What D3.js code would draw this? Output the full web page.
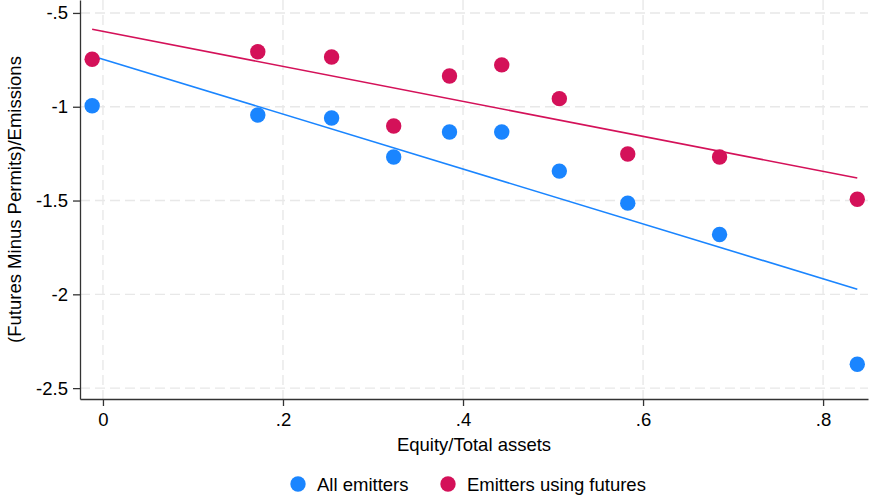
<!DOCTYPE html>
<html>
<head>
<meta charset="utf-8">
<script src="https://cdn.jsdelivr.net/npm/d3@7/dist/d3.min.js"></script>
<style>
  body { margin: 0; background: #fff; }
  svg { display: block; font-family: "Liberation Sans", Arial, sans-serif; }
</style>
</head>
<body>
<svg id="chart"></svg>
<script>
// binned points
const equity = [-0.012, 0.172, 0.254, 0.323, 0.385, 0.443, 0.507, 0.583, 0.685, 0.838];
const allEmitters = [-0.995, -1.044, -1.060, -1.268, -1.135, -1.135, -1.343, -1.514, -1.681, -2.373];
const futuresUsers = [-0.747, -0.707, -0.735, -1.103, -0.836, -0.777, -0.957, -1.252, -1.268, -1.493];

// fitted lines: [x, y] at both ends
const allFit = [[-0.012, -0.729], [0.838, -1.973]];
const futuresFit = [[-0.012, -0.587], [0.838, -1.380]];

const xTicks = [0, 0.2, 0.4, 0.6, 0.8];
const yTicks = [-0.5, -1, -1.5, -2, -2.5];

const seriesNames = ["All emitters", "Emitters using futures"];
const colors = ["#1a85ff", "#d41159"];

const W = 869, H = 495;
const margin = { top: 0, right: 1, bottom: 96, left: 80 };
const width = W - margin.left - margin.right,
      height = H - margin.top - margin.bottom;
const fontSize = "18.5px";

const svg = d3.select("#chart").attr("width", W).attr("height", H);
const g = svg.append("g").attr("transform", `translate(${margin.left},${margin.top})`);

const x = d3.scaleLinear().domain([-0.0255, 0.8499]).range([0, width]);
const y = d3.scaleLinear().domain([-2.558, -0.431]).range([height, 0]);

// Stata style labels: "-.5", ".2", plain hyphen
const fmt = d => String(d).replace("0.", ".");

// grid
g.selectAll(".hgrid").data(yTicks).enter().append("line")
  .attr("x1", 0).attr("x2", width)
  .attr("y1", d => y(d)).attr("y2", d => y(d))
  .attr("stroke", "#e8e8e8").attr("stroke-width", 1.4).attr("stroke-dasharray", "10,5");
g.selectAll(".vgrid").data(xTicks).enter().append("line")
  .attr("y1", 0).attr("y2", height)
  .attr("x1", d => x(d)).attr("x2", d => x(d))
  .attr("stroke", "#e8e8e8").attr("stroke-width", 1.4).attr("stroke-dasharray", "10,5");

// axes
const yAxis = g.append("g")
  .call(d3.axisLeft(y).tickValues(yTicks).tickFormat(fmt).tickSize(7).tickPadding(5).tickSizeOuter(0));
const xAxis = g.append("g").attr("transform", `translate(0,${height})`)
  .call(d3.axisBottom(x).tickValues(xTicks).tickFormat(fmt).tickSize(7).tickPadding(7).tickSizeOuter(0));
[xAxis, yAxis].forEach(a => {
  a.select(".domain").attr("stroke", "#333").attr("stroke-width", 1.3);
  a.selectAll(".tick line").attr("stroke", "#333").attr("stroke-width", 1.3);
  a.selectAll("text").attr("fill", "#000").style("font-size", fontSize)
    .style("font-family", "'Liberation Sans', Arial, sans-serif");
});

// fit lines
const line = d3.line().x(d => x(d[0])).y(d => y(d[1]));
[allFit, futuresFit].forEach((f, i) => {
  g.append("path").datum(f).attr("d", line)
    .attr("fill", "none").attr("stroke", colors[i]).attr("stroke-width", 1.6);
});

// points
[allEmitters, futuresUsers].forEach((vals, i) => {
  g.selectAll(".dot" + i).data(vals).enter().append("circle")
    .attr("cx", (d, j) => x(equity[j]))
    .attr("cy", d => y(d))
    .attr("r", 7.7)
    .attr("fill", colors[i]);
});

// axis titles
svg.append("text")
  .attr("x", margin.left + width / 2)
  .attr("y", 451)
  .attr("text-anchor", "middle")
  .style("font-size", fontSize)
  .text("Equity/Total assets");

svg.append("text")
  .attr("transform", `translate(21,${margin.top + height / 2}) rotate(-90)`)
  .attr("text-anchor", "middle")
  .style("font-size", fontSize)
  .text("(Futures Minus Permits)/Emissions");

// legend
const legendX = [298, 448];
seriesNames.forEach((name, i) => {
  svg.append("circle").attr("cx", legendX[i]).attr("cy", 484).attr("r", 7.7).attr("fill", colors[i]);
  svg.append("text").attr("x", legendX[i] + 19).attr("y", 490.5)
    .style("font-size", fontSize).text(name);
});
</script>
</body>
</html>
